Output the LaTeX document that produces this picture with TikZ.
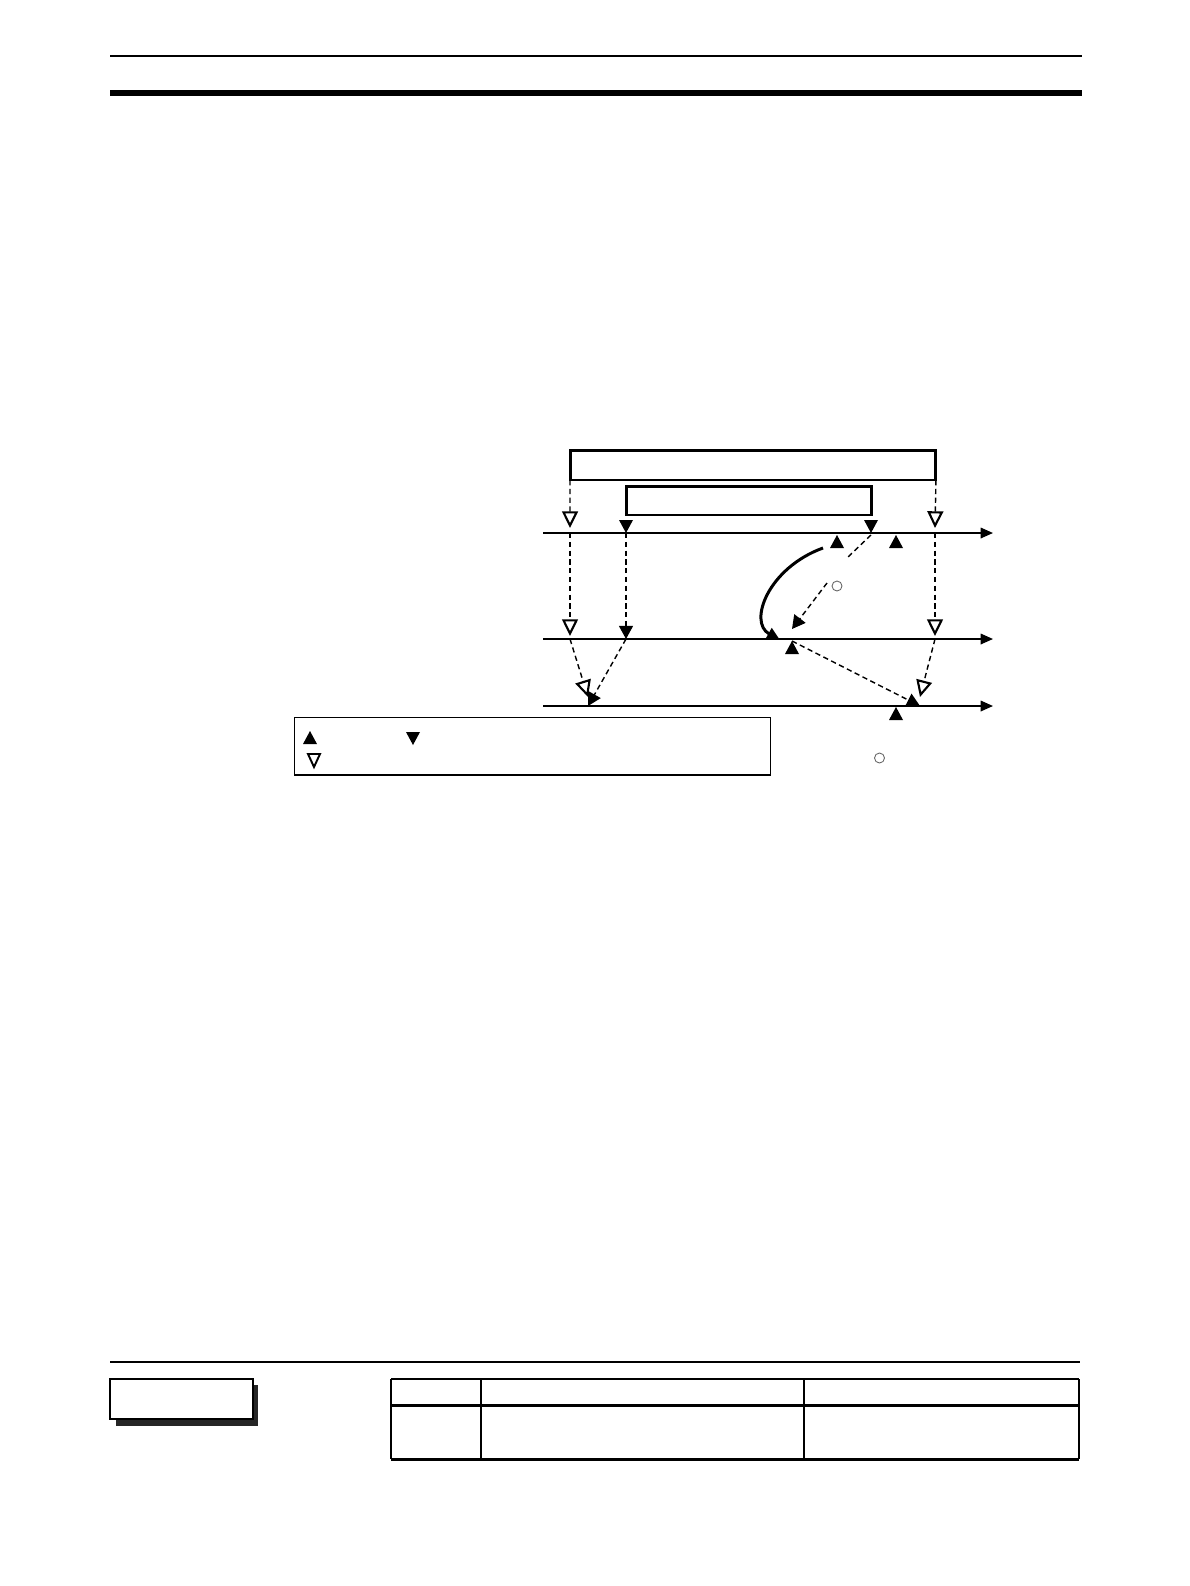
\documentclass[tikz,border=0pt]{standalone}
\usetikzlibrary{arrows.meta,positioning}

\begin{document}
\begin{tikzpicture}[x=0.02cm,y=-0.02cm,
 >={Triangle[length=7pt,width=6pt]},
 axis/.style={->,line width=0.9pt},
 frame/.style={draw,line width=1.7pt,inner sep=0pt,outer sep=0pt},
 link/.style={line width=0.8pt,dash pattern=on 3pt off 2pt},
 hollowlink/.style={link,-{Triangle[open,length=9.5pt,width=9pt,line width=1.2pt]}},
 solidlink/.style={link,-{Triangle[length=7.5pt,width=8pt]}},
 marker/.style={circle,draw=black!60,line width=0.5pt,minimum size=0.2cm,inner sep=0pt},
 upmark/.pic={\fill (0,0)--(-7,13)--(7,13)--cycle;},
 downmark/.pic={\fill (0,0)--(-7,-13)--(7,-13)--cycle;},
 hollowmark/.pic={\draw[line width=1.1pt,fill=white] (0,0)--(-6,-13)--(6,-13)--cycle;}]
 \useasboundingbox (0,0) rectangle (1190,1586);

 \draw[line width=1pt] (110,55.7) -- (1082,55.7);
 \fill (110,90) rectangle (1082,95.7);

 \node[frame,minimum width=7.32cm,minimum height=0.6cm] (prog) at (753,465) {};
 \node[frame,minimum width=4.92cm,minimum height=0.58cm] (task) at (749,500.5) {};

 \coordinate (a1l) at (543,533); \coordinate (a1r) at (993,533);
 \coordinate (a2l) at (543,639); \coordinate (a2r) at (993,639);
 \coordinate (a3l) at (543,706); \coordinate (a3r) at (993,706);
 \draw[axis] (a1l) -- (a1r);
 \draw[axis] (a2l) -- (a2r);
 \draw[axis] (a3l) -- (a3r);

 \coordinate (p1) at (570,528); \coordinate (p1b) at (570,533);
 \coordinate (p2) at (570,636); \coordinate (p2b) at (570,639);
 \coordinate (q1) at (626,533); \coordinate (q2) at (626,639);
 \coordinate (r1) at (935,528); \coordinate (r1b) at (935,533);
 \coordinate (r2) at (935,636); \coordinate (r2b) at (935,639);
 \coordinate (s1) at (871,535); \coordinate (s1a) at (847,558);
 \coordinate (s2a) at (827,583); \coordinate (s2) at (792,629);
 \coordinate (u2) at (792,641);
 \coordinate (lh) at (588,697); \coordinate (lf) at (588,706);
 \coordinate (rh) at (920,697); \coordinate (rf) at (920,706);
 \coordinate (w1) at (823,548); \coordinate (w2) at (780,640);

 \draw[hollowlink] (prog.south west) -- (p1);
 \draw[hollowlink] (p1b) -- (p2);
 \draw[hollowlink] (p2b) -- (lh);
 \draw[hollowlink] (prog.south east) -- (r1);
 \draw[hollowlink] (r1b) -- (r2);
 \draw[hollowlink] (r2b) -- (rh);

 \pic at (q1) {downmark};
 \pic at (871,533) {downmark};
 \draw[solidlink] (q1) -- (q2);
 \draw[solidlink] (q2) -- (lf);
 \draw[link] (s1) -- (s1a);
 \draw[solidlink] (s2a) -- (s2);
 \draw[solidlink] (u2) -- (rf);

 \pic at (837,535) {upmark};
 \pic at (896,535) {upmark};
 \pic at (u2) {upmark};
 \pic at (896,707) {upmark};

 \draw[line width=1.7pt,-{Triangle[length=7.5pt,width=7pt]}] (w1) .. controls (768,568) and (748,622) .. (w2);

 \node[marker] (c1) at (837,586) {};

 \node[draw,line width=0.6pt,minimum width=9.53cm,minimum height=1.15cm,inner sep=0pt] (key) at (532.75,746.25) {};
 \pic at (310,731) {upmark};
 \pic at (413,745) {downmark};
 \pic at (314,767) {hollowmark};
 \node[marker] (c2) at (879.5,758) {};

 \draw[line width=1pt] (110,1362) -- (1080,1362);
 \fill[black!85] (116,1385) rectangle (258,1426);
 \node[draw,fill=white,line width=0.8pt,minimum width=2.86cm,minimum height=0.8cm,inner sep=0pt] (tab) at (181.5,1399) {};

 \draw[line width=1.1pt] (391,1379) -- (1079,1379);
 \draw[line width=1.7pt] (391,1405.7) -- (1079,1405.7);
 \draw[line width=1.7pt] (391,1459) -- (1079,1459);
 \draw[line width=1.2pt] (391,1379) -- (391,1459);
 \draw[line width=1.2pt] (1079,1379) -- (1079,1459);
 \draw[line width=0.6pt] (481,1379) -- (481,1459);
 \draw[line width=0.6pt] (804,1379) -- (804,1459);
\end{tikzpicture}
\end{document}
